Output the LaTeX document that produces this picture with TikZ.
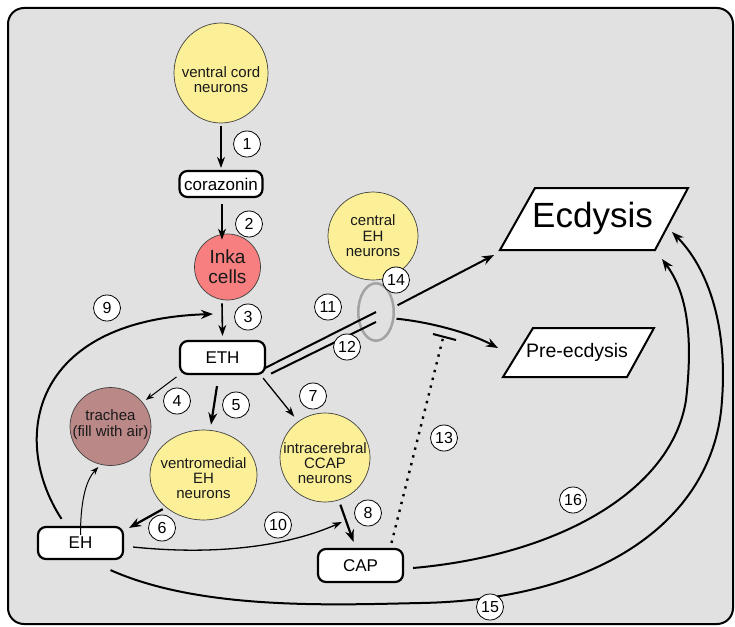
\documentclass[tikz,border=0pt]{standalone}
\usepackage{fontspec}
\setmainfont{Liberation Sans}
\usetikzlibrary{arrows.meta,shapes.geometric}
\definecolor{bgg}{HTML}{E1E1E1}
\definecolor{ylw}{HTML}{FBEF98}
\definecolor{inka}{HTML}{F77F7F}
\definecolor{trach}{HTML}{BB8888}
\definecolor{ringg}{HTML}{A3A3A3}
\newcommand{\fsz}[2]{\fontsize{#1}{#2}\selectfont}
\begin{document}
\begin{tikzpicture}[x=1pt,y=-1pt,
  cell/.style={ellipse, draw=black!75, line width=0.7pt, fill=ylw, inner sep=0pt},
  celltext/.style={align=center, font=\fsz{15}{15}, inner sep=0pt, text=black!90},
  pbox/.style={rectangle, rounded corners=8pt, draw, line width=2.2pt, fill=white, inner sep=0pt, font=\fsz{17}{17}},
  num/.style={ellipse, draw, line width=0.8pt, fill=white, minimum width=27pt, minimum height=26pt, inner sep=0pt, font=\fsz{16}{16}},
  arr/.style={line width=1.6pt, -{Stealth[length=11pt,width=8pt]}},
  thickarr/.style={line width=2.2pt, -{Stealth[length=12pt,width=9pt]}},
  thinarr/.style={line width=1.3pt, -{Stealth[length=10pt,width=7pt]}},
  hairarr/.style={line width=1pt, -{Stealth[length=8pt,width=6pt]}},
  conn/.style={line width=2pt},
  para/.style={draw, line width=2pt, fill=white, line join=miter}
]
\useasboundingbox (0,0) rectangle (735,626);
\fill[white] (0,0) rectangle (735,626);
\draw[line width=2pt, fill=bgg, rounded corners=16pt] (8,8) rectangle (733,624);

% nodes
\node[cell, minimum width=94pt, minimum height=100pt] (vcn) at (221,73) {};
\node[celltext] (vcnt) at (221,80) {ventral cord\\neurons};
\node[pbox, minimum width=83pt, minimum height=26pt] (cor) at (221,184) {corazonin};
\node[ellipse, draw=black!75, line width=0.7pt, fill=inka, minimum size=66pt, inner sep=0pt, align=center, font=\fsz{19}{20}, text=black!90] (inka) at (227.5,267) {Inka\\cells};
\node[pbox, minimum width=85pt, minimum height=33pt] (eth) at (222.5,357.5) {ETH};
\node[cell, fill=trach, minimum width=81pt, minimum height=78pt] (tra) at (110.5,426.5) {};
\node[celltext, font=\fsz{15}{16}] (trat) at (110.5,425) {trachea\\(fill with air)};
\node[cell, minimum width=107pt, minimum height=90pt] (vm) at (203.5,475) {};
\node[celltext] (vmt) at (203.5,478) {ventromedial\\EH\\neurons};
\node[cell, minimum width=90pt, minimum height=89pt] (ic) at (325,457.5) {};
\node[celltext] (ict) at (325,463) {intracerebral\\CCAP\\neurons};
\node[cell, minimum width=90pt, minimum height=88pt] (ceh) at (373,236) {};
\node[celltext, font=\fsz{15}{15.5}] (ceht) at (373,236) {central\\EH\\neurons};
\node[pbox, minimum width=85pt, minimum height=32pt] (eh) at (80.5,543) {EH};
\node[pbox, minimum width=85pt, minimum height=33pt] (cap) at (360.5,565.5) {CAP};
\node[ellipse, draw=ringg, line width=2.5pt, minimum width=35.5pt, minimum height=57.5pt, inner sep=0pt] (ring) at (376,312) {};

% outcome boxes
\draw[para] (535,188) -- (688,188) -- (655,250) -- (500,250) -- cycle;
\node[font=\fsz{35}{35}, inner sep=0pt] (ecd) at (592.5,218) {Ecdysis};
\draw[para] (533,328) -- (654,328) -- (627,377) -- (503,377) -- cycle;
\node[font=\fsz{19.5}{19.5}, inner sep=0pt] (pre) at (577,352) {Pre-ecdysis};

% free ends
\coordinate (t9) at (213,314);
\coordinate (t10) at (342,522);
\coordinate (tecd) at (494,255);
\coordinate (tpre) at (498,348);
\coordinate (t15) at (672,232);
\coordinate (t16) at (662,259);
\coordinate (bar) at (443,338);

% connectors
\draw[arr, shorten <=3pt, shorten >=2pt] (vcn) -- (cor);
\draw[arr] ([xshift=1pt,yshift=-6pt]cor.south) -- ([xshift=-5.5pt,yshift=-6pt]inka.north);
\draw[arr] ([xshift=-5.5pt,yshift=-3pt]inka.south) -- ([yshift=4pt]eth.north);
\draw[hairarr, shorten <=3pt, shorten >=4pt] (eth.south west) -- (tra);
\draw[thickarr] ([xshift=-5.5pt,yshift=-11pt]eth.south) -- ([xshift=7.5pt,yshift=5pt]vm.north);
\draw[thinarr] ([xshift=-3pt,yshift=-3pt]eth.south east) -- ([shift={(-5pt,4pt)}]ic.125);
\draw[thickarr] ([shift={(-4pt,-1pt)}]vm.222) -- ([shift={(5pt,-2pt)}]eh.north east);
\draw[thickarr] ([yshift=-5pt]ic.290) -- ([xshift=-7pt,yshift=6pt]cap.north);
\draw[hairarr] ([yshift=-9pt]eh.north) .. controls (80.5,495) and (88,478) .. ([yshift=-3pt]tra.252);
\draw[thinarr] ([xshift=9pt,yshift=-4pt]eh.east) .. controls (220,556) and (290,545) .. (t10);
\draw[conn, -{Stealth[length=12pt,width=9pt]}] ([xshift=-19pt,yshift=7pt]eh.north) .. controls (10,440) and (30,320) .. (t9);
\draw[conn] ([shift={(-2pt,-11pt)}]eth.east) -- ([yshift=0pt]ring.center);
\draw[conn] ([shift={(0pt,1.5pt)}]eth.south east) ++(5pt,0pt) -- ([yshift=-10pt]ring.center);
\draw[conn, -{Stealth[length=12pt,width=9pt]}] ([xshift=3pt]ring.20) -- (tecd);
\draw[conn, -{Stealth[length=12pt,width=9pt]}] ([xshift=2pt]ring.-20) .. controls (430,322) and (470,333) .. (tpre);
\draw[line width=2.4pt, dash pattern=on 2.4pt off 5.6pt] ([shift={(31pt,5pt)}]cap.north) -- (bar);
\draw[line width=2pt] (433,334) -- (456,340);
\draw[conn, -{Stealth[length=12pt,width=9pt]}] ([shift={(9pt,-2.5pt)}]cap.east) .. controls (560,555) and (672,490) .. (686,400) .. controls (694,330) and (685,290) .. (t16);
\draw[conn, -{Stealth[length=12pt,width=9pt]}] ([shift={(30pt,-10pt)}]eh.south) .. controls (200,610) and (330,605) .. (420,603) .. controls (600,600) and (715,520) .. (722,400) .. controls (728,320) and (705,265) .. (t15);

% step labels
\node[num] (l1) at (247,144) {1};
\node[num] (l2) at (249,224) {2};
\node[num] (l3) at (248,317) {3};
\node[num] (l4) at (177,401) {4};
\node[num] (l5) at (236,405) {5};
\node[num] (l6) at (162,528) {6};
\node[num] (l7) at (313,396) {7};
\node[num] (l8) at (368,513) {8};
\node[num] (l9) at (107,308) {9};
\node[num] (l10) at (278,525) {10};
\node[num] (l11) at (328,307) {11};
\node[num] (l12) at (347,347) {12};
\node[num] (l13) at (444,438) {13};
\node[num] (l14) at (396,280) {14};
\node[num] (l15) at (490,607) {15};
\node[num] (l16) at (573,500) {16};
\end{tikzpicture}
\end{document}
